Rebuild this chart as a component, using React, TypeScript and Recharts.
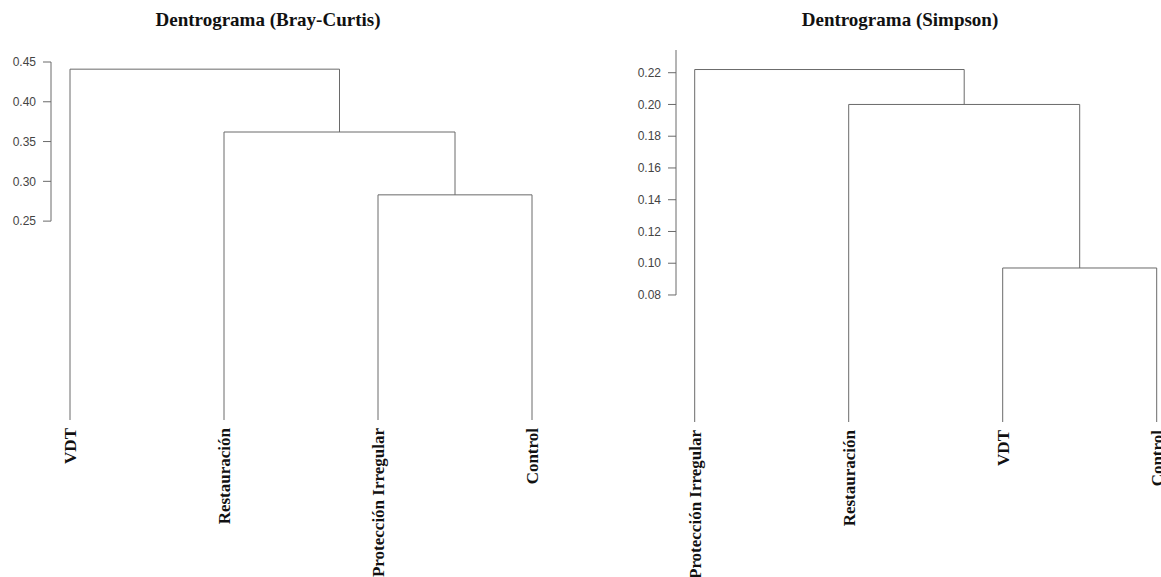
import { Line, LineChart, ReferenceLine, XAxis, YAxis } from "recharts";

// Bray-Curtis dendrogram (leaf order left to right)
const bcLabels = ["VDT", "Restauración", "Protección Irregular", "Control"];
// merge steps like R's hclust: negative = leaf (1-based position), positive = earlier cluster
const bcMerge = [
  [-3, -4],
  [-2, 1],
  [-1, 2],
];
const bcHeights = [0.283, 0.362, 0.441];
const bcTicks = [0.25, 0.3, 0.35, 0.4, 0.45];

// Simpson dendrogram
const simLabels = ["Protección Irregular", "Restauración", "VDT", "Control"];
const simMerge = [
  [-3, -4],
  [-2, 1],
  [-1, 2],
];
const simHeights = [0.097, 0.2, 0.222];
const simTicks = [0.08, 0.1, 0.12, 0.14, 0.16, 0.18, 0.2, 0.22];

type Pt = { x: number; y: number };

function buildLinks(merge: number[][], heights: number[]) {
  const clusters: Pt[] = [];
  const links: Pt[][] = [];
  const pos = (ref: number): Pt =>
    ref < 0 ? { x: -ref, y: 0 } : clusters[ref - 1];
  merge.forEach(([a, b], i) => {
    const p1 = pos(a);
    const p2 = pos(b);
    const h = heights[i];
    links.push([
      { x: p1.x, y: p1.y },
      { x: p1.x, y: h },
      { x: p2.x, y: h },
      { x: p2.x, y: p2.y },
    ]);
    clusters.push({ x: (p1.x + p2.x) / 2, y: h });
  });
  return links;
}

const LINE = "#6a6a6a";

type DendroProps = {
  labels: string[];
  merge: number[][];
  heights: number[];
  ticks: number[];
  width: number;
  height: number;
  axisWidth: number;
  marginTop: number;
  marginRight: number;
  marginBottom: number;
  xDomain: [number, number];
  yDomain: [number, number];
};

function Dendrogram(props: DendroProps) {
  const links = buildLinks(props.merge, props.heights);
  const LeafTick = ({ x, y, payload }: any) => {
    const label = props.labels[Math.round(payload.value) - 1];
    return (
      <text
        x={x}
        y={y}
        dy="0.36em"
        transform={`rotate(-90, ${x}, ${y})`}
        textAnchor="end"
        fontFamily="'Liberation Serif', 'Times New Roman', serif"
        fontWeight="bold"
        fontSize={17}
        fill="#111"
      >
        {label}
      </text>
    );
  };
  return (
    <LineChart
      width={props.width}
      height={props.height}
      margin={{
        top: props.marginTop,
        right: props.marginRight,
        bottom: props.marginBottom,
        left: 0,
      }}
    >
      <XAxis
        type="number"
        dataKey="x"
        domain={props.xDomain}
        ticks={[1, 2, 3, 4]}
        interval={0}
        axisLine={false}
        tickLine={false}
        height={150}
        tick={<LeafTick />}
      />
      <YAxis
        type="number"
        dataKey="y"
        domain={props.yDomain}
        ticks={props.ticks}
        interval={0}
        width={props.axisWidth}
        axisLine={false}
        tickSize={8}
        tickMargin={7}
        tickLine={{ stroke: LINE }}
        tickFormatter={(v: number) => v.toFixed(2)}
        tick={{
          fontSize: 12,
          fill: "#444",
          fontFamily: "'Liberation Sans', Arial, sans-serif",
        }}
      />
      <ReferenceLine
        segment={[
          { x: props.xDomain[0], y: props.ticks[0] },
          {
            x: props.xDomain[0],
            y: Math.max(props.ticks[props.ticks.length - 1], props.yDomain[1]),
          },
        ]}
        stroke={LINE}
        ifOverflow="visible"
      />
      {links.map((pts, i) => (
        <Line
          key={i}
          data={pts}
          dataKey="y"
          type="linear"
          stroke={LINE}
          strokeWidth={1}
          dot={false}
          activeDot={false}
          isAnimationActive={false}
        />
      ))}
    </LineChart>
  );
}

export default function App() {
  return (
    <div
      style={{
        position: "absolute",
        left: 0,
        top: 0,
        width: 1161,
        height: 577,
        background: "#fff",
        overflow: "hidden",
      }}
    >
      <div style={{ position: "absolute", left: 0, top: 0 }}>
        <Dendrogram
          labels={bcLabels}
          merge={bcMerge}
          heights={bcHeights}
          ticks={bcTicks}
          width={580}
          height={577}
          axisWidth={51}
          marginTop={62}
          marginRight={20}
          marginBottom={7}
          xDomain={[0.8766, 4.1818]}
          yDomain={[0, 0.45]}
        />
      </div>
      <div style={{ position: "absolute", left: 580, top: 0 }}>
        <Dendrogram
          labels={simLabels}
          merge={simMerge}
          heights={simHeights}
          ticks={simTicks}
          width={581}
          height={577}
          axisWidth={96}
          marginTop={50}
          marginRight={0}
          marginBottom={5}
          xDomain={[0.8786, 4.028]}
          yDomain={[0, 0.2343]}
        />
      </div>
      <svg
        width={1161}
        height={577}
        style={{ position: "absolute", left: 0, top: 0, pointerEvents: "none" }}
      >
        <text
          x={268}
          y={26}
          textAnchor="middle"
          fontFamily="'Liberation Serif', 'Times New Roman', serif"
          fontWeight="bold"
          fontSize={19}
          fill="#111"
        >
          Dentrograma (Bray-Curtis)
        </text>
        <text
          x={900}
          y={26}
          textAnchor="middle"
          fontFamily="'Liberation Serif', 'Times New Roman', serif"
          fontWeight="bold"
          fontSize={19}
          fill="#111"
        >
          Dentrograma (Simpson)
        </text>
      </svg>
    </div>
  );
}
